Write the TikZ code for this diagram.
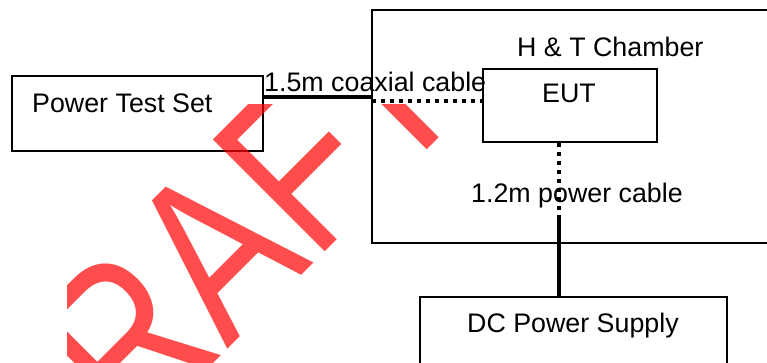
\documentclass[tikz,border=0pt]{standalone}
\usepackage{fontspec}
\setmainfont{Liberation Sans}
\usetikzlibrary{positioning}

\begin{document}
\begin{tikzpicture}[
  x=1pt, y=1pt,
  font=\fontsize{26.8}{32}\selectfont,
  box/.style={draw,line width=1.3pt,inner sep=0pt},
  room/.style={box,line width=1.8pt},
  txt/.style={inner sep=0pt,anchor=base west},
  cable/.style={line width=4pt},
  cabledot/.style={cable,dash pattern=on 4pt off 5pt},
  wmark/.style={text=red,text opacity=0.7,inner sep=0pt,anchor=base west,rotate=45,
    font=\fontsize{230}{230}\selectfont}
]
\clip (0,0) rectangle (767,362);

% ---------- equipment ----------
\node[box,minimum width=251pt,minimum height=75pt] (pts) at (137.5,248.5) {};
\node[txt] (ptstext) at (32,250) {Power Test Set};

\node[room,minimum width=428pt,minimum height=233pt] (chamber) at (586,235.5) {};
\node[txt] (chambertext) at (517,305) {H \& T Chamber};

\node[box,minimum width=174pt,minimum height=73pt] (eut) at (570,256.5) {};
\node[txt] (euttext) at (542,259) {EUT};

\node[box,minimum width=307pt,minimum height=103pt] (dc) at (573.5,13.5) {};
\node[txt] (dctext) at (467,30) {DC Power Supply};

% ---------- cables ----------
\coordinate (wall) at (372,265);
\coordinate (wallin) at (372,261);
\coordinate (split) at (559,144);
\draw[cable] (pts.east |- wall) -- (wall);
\draw[cabledot] (wallin) -- (wallin -| eut.west);
\draw[cabledot] (split |- eut.south) -- (split);
\draw[cable] (split) -- (split |- dc.north);
\node[txt] (coaxtext) at (264,270) {1.5m coaxial cable};
\node[txt] (powertext) at (471,160) {1.2m power cable};

% ---------- watermark ----------
\begin{scope}
  \clip (67,0) rectangle (767,257);
  \node[wmark] (draft) at (39.6,-175.5) {\scalebox{0.8}[1]{DRAFT}};
\end{scope}

\end{tikzpicture}
\end{document}
